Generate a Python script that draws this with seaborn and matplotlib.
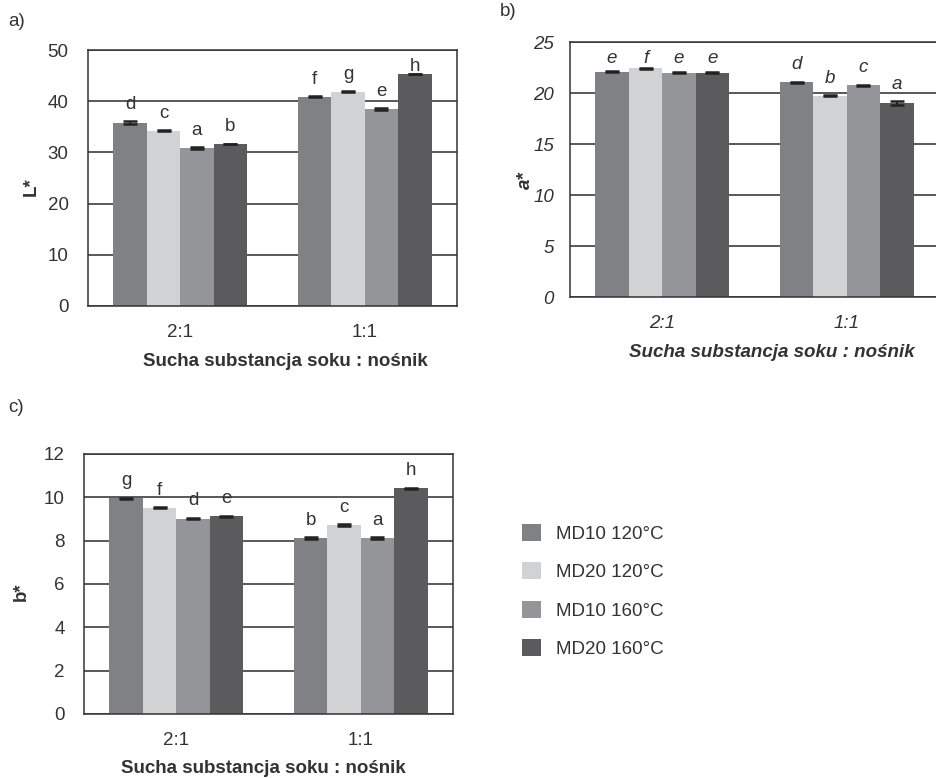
import pandas as pd
import matplotlib
matplotlib.use("Agg")
import matplotlib.pyplot as plt
import seaborn as sns
from matplotlib.patches import Patch

# data
ratios = ["2:1", "1:1"]
series = ["MD10 120°C", "MD20 120°C", "MD10 160°C", "MD20 160°C"]
colors = ["#808185", "#d1d2d4", "#939598", "#5b5b5e"]

L_vals = [[35.8, 34.2, 30.8, 31.6], [40.9, 41.8, 38.4, 45.3]]
L_err = [[0.25, 0.1, 0.2, 0.05], [0.1, 0.1, 0.2, 0.05]]
L_letters = [["d", "c", "a", "b"], ["f", "g", "e", "h"]]

a_vals = [[22.1, 22.45, 22.0, 22.0], [21.1, 19.78, 20.8, 19.05]]
a_err = [[0.05, 0.05, 0.05, 0.05], [0.05, 0.05, 0.05, 0.15]]
a_letters = [["e", "f", "e", "e"], ["d", "b", "c", "a"]]

b_vals = [[9.95, 9.52, 9.02, 9.12], [8.12, 8.72, 8.12, 10.42]]
b_err = [[0.03, 0.03, 0.03, 0.03], [0.03, 0.03, 0.03, 0.03]]
b_letters = [["g", "f", "d", "e"], ["b", "c", "a", "h"]]

W, H = 936, 778
TXT = "#333333"
FS = 13.5


def long_frame(vals, errs, letters):
    rows = []
    for i, r in enumerate(ratios):
        for j, s in enumerate(series):
            rows.append({"ratio": r, "series": s, "value": vals[i][j],
                         "err": errs[i][j], "letter": letters[i][j]})
    return pd.DataFrame(rows)


def panel(rect_px, df, ymax, step, ylabel, style, ylab_xy, xlab_xy, ypad):
    left, top, right, bottom = rect_px
    ax = fig.add_axes([left / W, 1 - bottom / H, (right - left) / W, (bottom - top) / H])
    ax.set_axisbelow(True)
    ax.grid(axis="y", color="#3c3c3c", linewidth=1.2)
    ax.grid(axis="x", visible=False)
    sns.barplot(data=df, x="ratio", y="value", hue="series", palette=colors,
                hue_order=series, order=ratios, width=0.726, errorbar=None,
                saturation=1, linewidth=0, legend=False, ax=ax)
    ax.set_ylim(0, ymax)
    ax.set_yticks(range(0, ymax + 1, step))
    ax.set_xlim(-0.5, 1.5)
    ppu = (bottom - top) / ymax
    bars = list(ax.containers)
    for j, cont in enumerate(bars):
        for i, bar in enumerate(cont.patches):
            x = bar.get_x() + bar.get_width() / 2
            row = df[(df.ratio == ratios[i]) & (df.series == series[j])].iloc[0]
            ax.errorbar(x, row.value, yerr=row.err, fmt="none", ecolor="#222222",
                        elinewidth=1.5, capsize=5, capthick=1.8, zorder=5)
            # letters sit a little above each bar, kept inside the frame
            y = min(row.value + row.err + 17 / ppu, ymax - 16 / ppu)
            ax.text(x, y, row.letter, ha="center", va="center", fontsize=FS,
                    color=TXT, style=style)
    for sp in ax.spines.values():
        sp.set_color("#333333")
        sp.set_linewidth(1.1)
    ax.tick_params(axis="y", direction="out", length=5, width=1, color="#333333",
                   labelsize=FS, labelcolor=TXT, pad=ypad)
    ax.tick_params(axis="x", length=0, labelsize=FS, labelcolor=TXT, pad=13)
    for t in ax.get_xticklabels() + ax.get_yticklabels():
        t.set_style(style)
    ax.set_xlabel("Sucha substancja soku : nośnik", fontsize=FS, fontweight="bold",
                  color=TXT, style=style)
    ax.set_ylabel(ylabel, fontsize=FS, fontweight="bold", color=TXT, style=style)
    ax.xaxis.label.set_va("center")
    ax.yaxis.label.set_va("center")
    ax.xaxis.set_label_coords(*xlab_xy)
    ax.yaxis.set_label_coords(*ylab_xy)
    return ax


sns.set_theme(style="white")
plt.rcParams["font.family"] = ["Liberation Sans", "DejaVu Sans"]

fig = plt.figure(figsize=(W / 100, H / 100), dpi=100)

panel((88, 50, 457, 306), long_frame(L_vals, L_err, L_letters), 50, 10, "L*",
      "normal", (-0.154, 0.465), (0.534, -0.215), 9)
panel((570, 42.3, 939, 297.3), long_frame(a_vals, a_err, a_letters), 25, 5, "a*",
      "italic", (-0.122, 0.46), (0.546, -0.215), 6.5)
panel((84, 454, 453, 714), long_frame(b_vals, b_err, b_letters), 12, 2, "b*",
      "normal", (-0.171, 0.47), (0.486, -0.208), 9)

fig.text(8 / W, 1 - 22 / H, "a)", fontsize=FS, color=TXT, va="center")
fig.text(500 / W, 1 - 12 / H, "b)", fontsize=FS, color=TXT, va="center")
fig.text(8 / W, 1 - 408 / H, "c)", fontsize=FS, color=TXT, va="center")

handles = [Patch(facecolor=c, edgecolor="none", label=s) for c, s in zip(colors, series)]
leg = fig.legend(handles=handles, loc="upper left", bbox_to_anchor=(522 / W, 1 - 524 / H),
                 frameon=False, fontsize=FS, handlelength=1.01, handleheight=1.01,
                 handletextpad=0.8, labelspacing=1.04, borderpad=0, borderaxespad=0)
for t in leg.get_texts():
    t.set_color(TXT)

fig.savefig("out.png", dpi=100)
